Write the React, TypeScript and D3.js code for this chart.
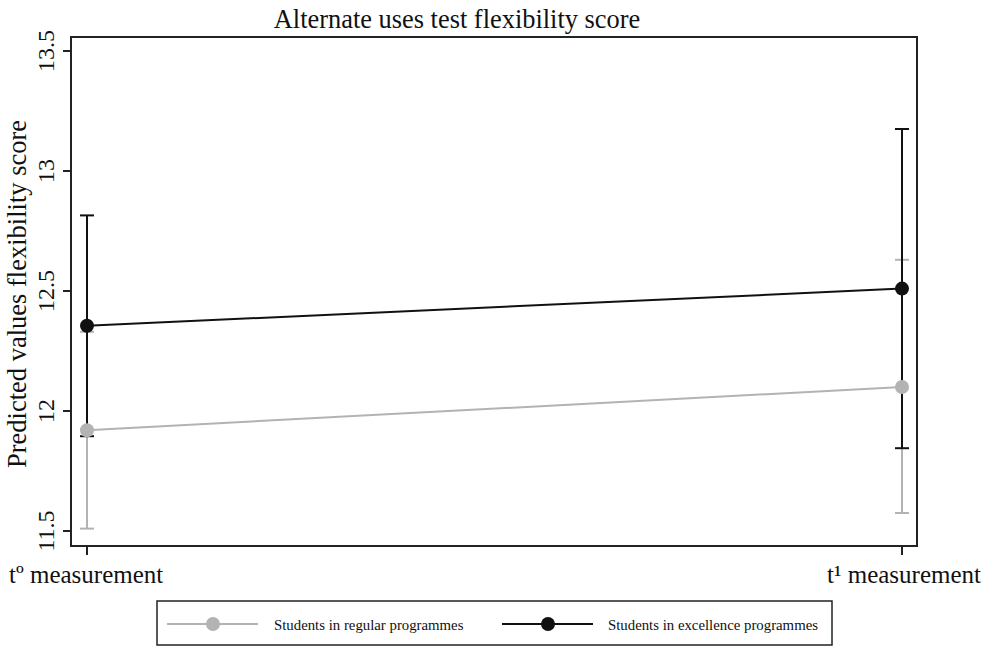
import React from "react";
import * as d3 from "d3";

const timepoints = ["t0", "t1"];
const timeLabels = ["tº measurement", "t¹ measurement"];
const seriesNames = ["Students in regular programmes", "Students in excellence programmes"];
const regularMean = [11.92, 12.10];
const regularLow = [11.51, 11.575];
const regularHigh = [12.33, 12.63];
const excellenceMean = [12.355, 12.51];
const excellenceLow = [11.895, 11.845];
const excellenceHigh = [12.815, 13.175];
const yTicks = [11.5, 12, 12.5, 13, 13.5];

const W = 988, H = 647;
const FONT = "Liberation Serif";
const GRAY = "#b3b3b3";
const BLACK = "#111111";

export default function App() {
  const frame = { left: 71, right: 917, top: 37, bottom: 546 };
  const x = d3.scalePoint<string>().domain(timepoints).range([87, 902]);
  const y = d3.scaleLinear().domain([11.5, 13.5]).range([531, 51]);

  const series = [
    { name: seriesNames[0], mean: regularMean, low: regularLow, high: regularHigh, color: GRAY },
    { name: seriesNames[1], mean: excellenceMean, low: excellenceLow, high: excellenceHigh, color: BLACK },
  ];
  const line = d3.line<number>().x((_, i) => x(timepoints[i])!).y((d) => y(d));
  const cap = 7;
  const ts = { fontFamily: FONT };

  return (
    <svg width={W} height={H} style={{ position: "absolute", left: 0, top: 0, background: "#fff" }}>
      <rect x={0} y={0} width={W} height={H} fill="#fff" />
      <text x={457} y={28} textAnchor="middle" fontSize={26.4} fill="#111" style={ts}>Alternate uses test flexibility score</text>
      <text transform={`translate(26,294) rotate(-90)`} textAnchor="middle" fontSize={26.5} fill="#111" style={ts}>Predicted values flexibility score</text>
      <rect x={frame.left} y={frame.top} width={frame.right - frame.left} height={frame.bottom - frame.top} fill="none" stroke="#222" strokeWidth={2} />
      {yTicks.map((t) => (
        <g key={t}>
          <line x1={frame.left - 8} x2={frame.left} y1={y(t)} y2={y(t)} stroke="#222" strokeWidth={2} />
          <text transform={`translate(${frame.left - 17},${y(t)}) rotate(-90)`} textAnchor="middle" fontSize={24} fill="#111" style={ts}>{t}</text>
        </g>
      ))}
      {timepoints.map((tp) => (
        <line key={tp} x1={x(tp)} x2={x(tp)} y1={frame.bottom} y2={frame.bottom + 9} stroke="#222" strokeWidth={2} />
      ))}
      <text x={9} y={583} fontSize={25} fill="#111" style={ts}>{timeLabels[0]}</text>
      <text x={981} y={583} textAnchor="end" fontSize={25} fill="#111" style={ts}>{timeLabels[1]}</text>
      {series.map((s) => (
        <g key={s.name}>
          {timepoints.map((tp, i) => (
            <g key={tp}>
              <line x1={x(tp)} x2={x(tp)} y1={y(s.low[i])} y2={y(s.high[i])} stroke={s.color} strokeWidth={2} />
              <line x1={x(tp)! - cap} x2={x(tp)! + cap} y1={y(s.low[i])} y2={y(s.low[i])} stroke={s.color} strokeWidth={2} />
              <line x1={x(tp)! - cap} x2={x(tp)! + cap} y1={y(s.high[i])} y2={y(s.high[i])} stroke={s.color} strokeWidth={2} />
            </g>
          ))}
        </g>
      ))}
      {series.map((s) => (
        <g key={s.name + "l"}>
          <path d={line(s.mean)!} fill="none" stroke={s.color} strokeWidth={2} />
          {timepoints.map((tp, i) => (
            <circle key={tp} cx={x(tp)} cy={y(s.mean[i])} r={7} fill={s.color} />
          ))}
        </g>
      ))}
      <rect x={157} y={601} width={675} height={44} fill="#fff" stroke="#222" strokeWidth={1.5} />
      {series.map((s, i) => {
        const lx = i === 0 ? 167 : 502;
        const tx = i === 0 ? 274 : 608;
        return (
          <g key={s.name + "g"}>
            <line x1={lx} x2={lx + 91} y1={624} y2={624} stroke={s.color} strokeWidth={2} />
            <circle cx={lx + 46} cy={624} r={7} fill={s.color} />
            <text x={tx} y={630} fontSize={14.8} fill="#111" style={ts}>{s.name}</text>
          </g>
        );
      })}
    </svg>
  );
}
